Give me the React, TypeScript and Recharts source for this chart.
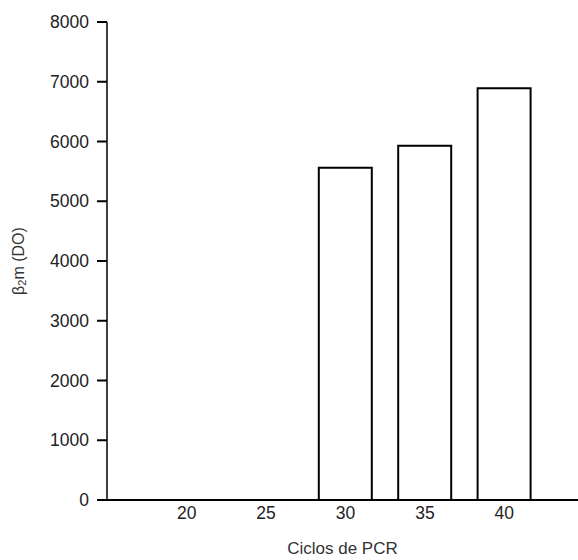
import { BarChart, Bar, XAxis, YAxis, Label } from 'recharts';

// ciclos de PCR vs β2m (DO)
const ciclos = ['20', '25', '30', '35', '40'];
const beta2m = [0, 0, 5560, 5930, 6890];
const yTicks = [0, 1000, 2000, 3000, 4000, 5000, 6000, 7000, 8000];

const data = ciclos.map((c, i) => ({ ciclo: c, valor: beta2m[i] }));

const font = '"Liberation Sans", Arial, sans-serif';

const YLabel = (props: any) => {
  const vb = props.viewBox || {};
  const cx = 18;
  const cy = (vb.y ?? 22) + (vb.height ?? 478) / 2;
  return (
    <text
      x={cx}
      y={cy}
      transform={`rotate(-90 ${cx} ${cy})`}
      textAnchor="middle"
      dominantBaseline="central"
      fontFamily={font}
      fontSize={16}
      fill="#333"
    >
      <tspan>β</tspan>
      <tspan dy={4} fontSize={11}>2</tspan>
      <tspan dy={-4}>m (DO)</tspan>
    </text>
  );
};

export default function App() {
  return (
    <div style={{ position: 'absolute', left: 0, top: 0, background: '#fff' }}>
      <BarChart
        width={578}
        height={560}
        data={data}
        margin={{ top: 22, right: 0, bottom: 0, left: 0 }}
        barCategoryGap={13}
      >
        <XAxis
          dataKey="ciclo"
          height={60}
          padding={{ left: 40, right: 34 }}
          tickLine={false}
          tickSize={0}
          tickMargin={7}
          axisLine={{ stroke: '#000', strokeWidth: 2 }}
          tick={{ fill: '#222', fontSize: 17.5, fontFamily: font }}
        >
          <Label
            value="Ciclos de PCR"
            position="insideBottom"
            offset={6}
            style={{ fill: '#333', fontSize: 17, fontFamily: font }}
          />
        </XAxis>
        <YAxis
          width={107}
          domain={[0, 8000]}
          ticks={yTicks}
          interval={0}
          tickSize={10}
          tickMargin={8}
          axisLine={{ stroke: '#000', strokeWidth: 1.5 }}
          tickLine={{ stroke: '#000', strokeWidth: 2 }}
          tick={{ fill: '#222', fontSize: 17.5, fontFamily: font }}
        >
          <Label content={YLabel} />
        </YAxis>
        <Bar
          dataKey="valor"
          fill="#fff"
          stroke="#000"
          strokeWidth={2}
          isAnimationActive={false}
        />
      </BarChart>
    </div>
  );
}
